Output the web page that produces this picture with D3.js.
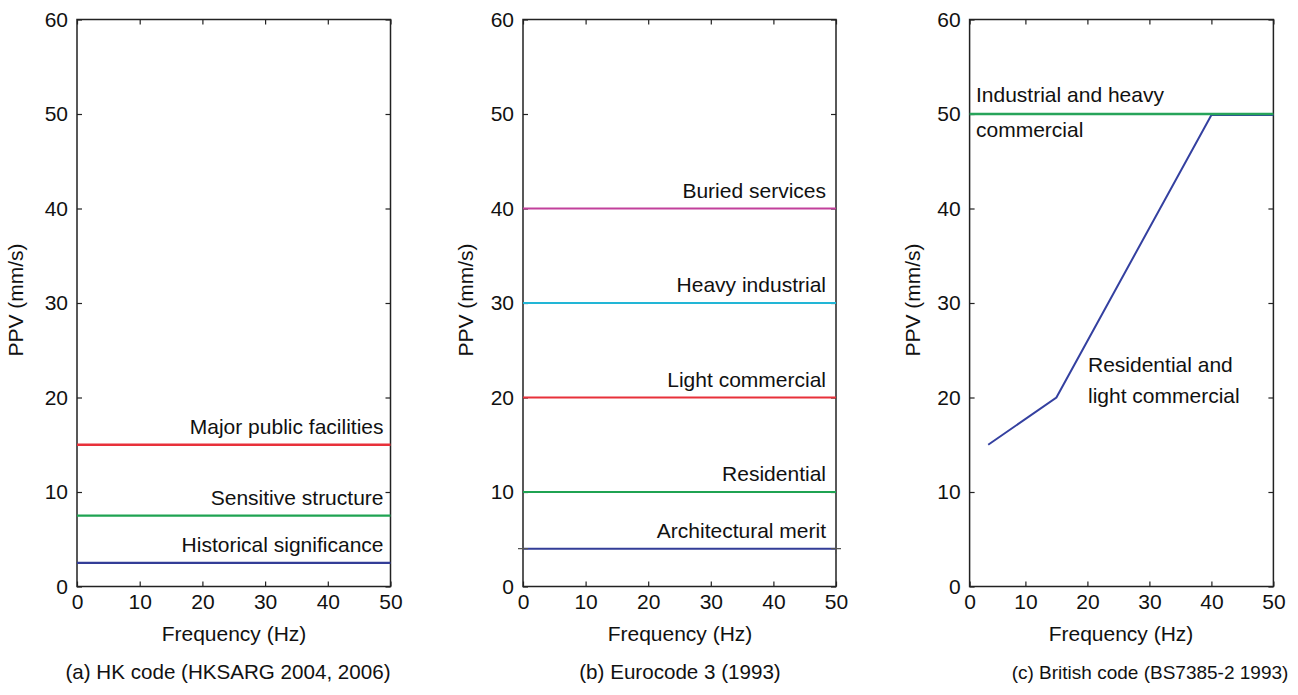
<!DOCTYPE html>
<html><head><meta charset="utf-8">
<script src="https://cdn.jsdelivr.net/npm/d3@7"></script>
<style>
html,body{margin:0;padding:0;background:#fff;}
text{font-family:"Liberation Sans",Arial,Helvetica,sans-serif;fill:#111;}
</style></head>
<body>
<svg id="chart" width="1298" height="695"></svg>
<script>
// ---------- data ----------
const yTicks = [0,10,20,30,40,50,60];
const xTicks = [0,10,20,30,40,50];
const xTicksC = [1,10,20,30,40,50];

// Panel (a) HK code
const hkNames  = ["Major public facilities","Sensitive structure","Historical significance"];
const hkValues = [15, 7.5, 2.5];
const hkColors = ["#e8313a","#1fa352","#333d97"];

// Panel (b) Eurocode 3
const euNames  = ["Buried services","Heavy industrial","Light commercial","Residential","Architectural merit"];
const euValues = [40, 30, 20, 10, 4];
const euColors = ["#c2409b","#22b6d6","#e8313a","#1fa352","#333d97"];

// Panel (c) British code
const bsIndFreq = [1, 50];
const bsIndPPV  = [50, 50];
const bsResFreq = [4, 15, 40, 50];
const bsResPPV  = [15, 20, 49.9, 49.9];

const titles = ["(a) HK code (HKSARG 2004, 2006)","(b) Eurocode 3 (1993)","(c) British code (BS7385-2 1993)"];

// ---------- layout ----------
const svg = d3.select("#chart");
const plotTop = 19.5, plotBottom = 586.5;
const y = d3.scaleLinear().domain([0,60]).range([plotBottom, plotTop]);

const panels = [
  {x0:77,   x1:390.5, dom:[0,50], ticks:xTicks,  ylab:18,  xlabC:234,  titleC:228,  titleFS:20.6},
  {x0:523,  x1:836,   dom:[0,50], ticks:xTicks,  ylab:468, xlabC:680,  titleC:680,  titleFS:20.6},
  {x0:969.6,x1:1273.4,dom:[1,50], ticks:xTicksC, ylab:915, xlabC:1121, titleC:1150, titleFS:19}
];

const FS = 21;

function drawFrame(p, x){
  const g = svg.append("g");
  const la = g.append("g").attr("transform",`translate(${p.x0},0)`)
    .call(d3.axisLeft(y).tickValues(yTicks).tickSize(-5).tickPadding(9));
  const ra = g.append("g").attr("transform",`translate(${p.x1},0)`)
    .call(d3.axisRight(y).tickValues(yTicks).tickSize(-5).tickFormat(""));
  const ba = g.append("g").attr("transform",`translate(0,${plotBottom})`)
    .call(d3.axisBottom(x).tickValues(p.ticks).tickSize(-5).tickPadding(8)
      .tickFormat(d => d===1 ? "0" : d));
  const ta = g.append("g").attr("transform",`translate(0,${plotTop})`)
    .call(d3.axisTop(x).tickValues(p.ticks).tickSize(-5).tickFormat(""));
  [la,ra,ba,ta].forEach(a=>{
    a.select(".domain").remove();
    a.selectAll("line").attr("stroke","#222").attr("stroke-width",1.2);
    a.selectAll("text").style("font-size",FS+"px").attr("fill","#111")
      .style("font-family",'"Liberation Sans",Arial,sans-serif');
  });
  g.append("rect").attr("x",p.x0).attr("y",plotTop)
    .attr("width",p.x1-p.x0).attr("height",plotBottom-plotTop)
    .attr("fill","none").attr("stroke","#222").attr("stroke-width",1.5);
  svg.append("text").attr("transform",`translate(${p.ylab+5},300) rotate(-90)`)
    .attr("text-anchor","middle").style("font-size",FS+"px").text("PPV (mm/s)");
  svg.append("text").attr("x",p.xlabC).attr("y",641)
    .attr("text-anchor","middle").style("font-size",FS+"px").text("Frequency (Hz)");
}

const line = (x) => d3.line().x(d=>x(d[0])).y(d=>y(d[1]));

// ---------- panel a ----------
{
  const p = panels[0];
  const x = d3.scaleLinear().domain(p.dom).range([p.x0,p.x1]);
  drawFrame(p,x);
  hkValues.forEach((v,i)=>{
    svg.append("path").datum([[0,v],[50,v]]).attr("d",line(x))
      .attr("stroke",hkColors[i]).attr("stroke-width",2.4).attr("fill","none");
    svg.append("text").attr("x",x(50)-7).attr("y",y(v)-11)
      .attr("text-anchor","end").style("font-size",FS+"px").text(hkNames[i]);
  });
}

// ---------- panel b ----------
{
  const p = panels[1];
  const x = d3.scaleLinear().domain(p.dom).range([p.x0,p.x1]);
  drawFrame(p,x);
  euValues.forEach((v,i)=>{
    svg.append("path").datum([[0,v],[50,v]]).attr("d",line(x))
      .attr("stroke",euColors[i]).attr("stroke-width",2).attr("fill","none");
    svg.append("text").attr("x",x(50)-10).attr("y",y(v)-11)
      .attr("text-anchor","end").style("font-size",FS+"px").text(euNames[i]);
  });
  const v = euValues[4];
  [0,50].forEach(f=>{
    const cx = x(f), cy = y(v), s=5;
    svg.append("path").attr("d",`M${cx-s},${cy}H${cx+s}M${cx},${cy-s}V${cy+s}`)
      .attr("stroke","#555").attr("stroke-width",1.3).attr("fill","none");
  });
}

// ---------- panel c ----------
{
  const p = panels[2];
  const x = d3.scaleLinear().domain(p.dom).range([p.x0,p.x1]);
  drawFrame(p,x);
  svg.append("path").datum(bsResFreq.map((f,i)=>[f,bsResPPV[i]])).attr("d",line(x))
    .attr("stroke","#3440a0").attr("stroke-width",2).attr("fill","none");
  svg.append("path").datum(bsIndFreq.map((f,i)=>[f,bsIndPPV[i]])).attr("d",line(x))
    .attr("stroke","#27a45a").attr("stroke-width",2.6).attr("fill","none");
  svg.append("text").attr("x",976).attr("y",102).style("font-size",FS+"px").text("Industrial and heavy");
  svg.append("text").attr("x",976).attr("y",137).style("font-size",FS+"px").text("commercial");
  svg.append("text").attr("x",1088).attr("y",372).style("font-size",FS+"px").text("Residential and");
  svg.append("text").attr("x",1088).attr("y",403).style("font-size",FS+"px").text("light commercial");
}

// ---------- titles ----------
panels.forEach((p,i)=>{
  svg.append("text").attr("x",p.titleC).attr("y",679).attr("text-anchor","middle")
    .style("font-size",p.titleFS+"px").text(titles[i]);
});
</script>
</body></html>
